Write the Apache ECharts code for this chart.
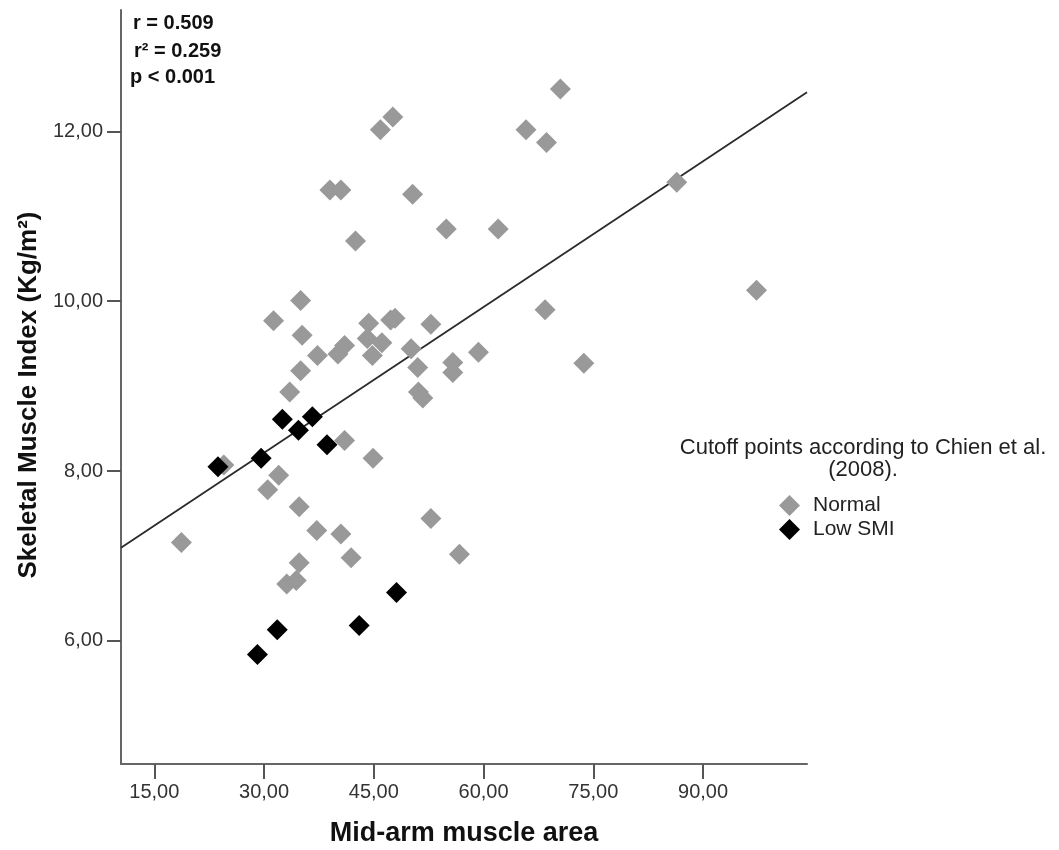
<!DOCTYPE html>
<html>
<head>
<meta charset="utf-8">
<script src="https://cdn.jsdelivr.net/npm/echarts@6/dist/echarts.min.js"></script>
<style>html,body{margin:0;padding:0;background:#fff;overflow:hidden}#c{width:1059px;height:850px}</style>
</head>
<body>
<div id="c"></div>
<script>
// Mid-arm muscle area (x) and Skeletal Muscle Index (y)
const normalX = [18.7,24.5,31.3,32.0,30.5,33.5,33.1,34.4,34.8,34.8,35.0,35.2,35.0,37.2,37.3,39.0,40.1,40.5,40.5,41.0,41.0,41.9,42.5,44.3,44.1,44.8,46.1,44.9,45.9,47.6,47.3,47.9,50.1,50.3,51.0,51.1,51.7,52.8,52.8,54.9,55.8,55.8,56.7,59.3,62.0,65.8,68.6,68.4,70.5,73.7,86.4,97.3];
const normalY = [7.16,8.07,9.77,7.95,7.78,8.93,6.67,6.71,6.92,7.58,9.18,9.60,10.01,7.30,9.36,11.31,9.38,11.31,7.26,8.36,9.48,6.98,10.71,9.74,9.56,9.36,9.51,8.15,12.02,12.17,9.78,9.80,9.44,11.26,9.22,8.93,8.86,9.73,7.44,10.85,9.28,9.16,7.02,9.40,10.85,12.02,11.87,9.90,12.50,9.27,11.40,10.13];
const lowX = [23.7,29.6,32.5,34.7,36.6,38.6,29.1,31.8,43.0,48.1];
const lowY = [8.05,8.15,8.61,8.48,8.64,8.31,5.84,6.13,6.18,6.57];
const xTicks = [15,30,45,60,75,90];
const yTicks = [6,8,10,12];
const xRange = [10.45, 104.2];
const yRange = [4.55, 13.43];
const fitIntercept = 6.50;
const fitSlope = 0.0572;
const statsText = ['r = 0.509', 'r\u00b2 = 0.259', 'p < 0.001'];
const legendTitle = ['Cutoff points according to Chien et al.', '(2008).'];
const seriesNames = ['Normal', 'Low SMI'];
const xTitle = 'Mid-arm muscle area';
const yTitle = 'Skeletal Muscle Index (Kg/m\u00b2)';

const FONT = '"Liberation Sans", Arial, sans-serif';
const fmt = v => v.toFixed(2).replace('.', ',');
const zip = (a, b) => a.map((v, i) => [v, b[i]]);
const fitLine = xRange.map(x => [x, fitIntercept + fitSlope * x]);

const chart = echarts.init(document.getElementById('c'), null, {renderer: 'canvas'});
chart.setOption({
  animation: false,
  backgroundColor: '#fff',
  grid: {left: 121, top: 10, width: 686, height: 754, containLabel: false, outerBoundsMode: 'none'},
  xAxis: {
    type: 'value', min: xRange[0], max: xRange[1],
    name: xTitle, nameLocation: 'middle', nameGap: 56,
    nameTextStyle: {fontFamily: FONT, fontSize: 27, fontWeight: 'bold', color: '#111'},
    splitLine: {show: false},
    axisLine: {lineStyle: {color: '#666', width: 2}},
    axisTick: {show: true, length: 15, customValues: xTicks, lineStyle: {color: '#555', width: 2}},
    axisLabel: {customValues: xTicks, formatter: fmt, fontFamily: FONT, fontSize: 20, color: '#333', margin: 18}
  },
  yAxis: {
    type: 'value', min: yRange[0], max: yRange[1],
    splitLine: {show: false},
    axisLine: {show: true, lineStyle: {color: '#666', width: 2}},
    axisTick: {show: true, length: 14, customValues: yTicks, lineStyle: {color: '#555', width: 2}},
    axisLabel: {customValues: yTicks, formatter: fmt, fontFamily: FONT, fontSize: 20, color: '#333', margin: 18}
  },
  legend: {
    orient: 'vertical', left: 774, top: 490, itemWidth: 21, itemHeight: 21, itemGap: 3,
    data: seriesNames,
    textStyle: {fontFamily: FONT, fontSize: 21, color: '#222', padding: [0, 0, 0, 8]}
  },
  graphic: [
    {type: 'text', x: 133, y: 23, style: {text: statsText[0], font: 'bold 20px ' + FONT, fill: '#111', textVerticalAlign: 'middle'}},
    {type: 'text', x: 134, y: 51, style: {text: statsText[1], font: 'bold 20px ' + FONT, fill: '#111', textVerticalAlign: 'middle'}},
    {type: 'text', x: 130, y: 77, style: {text: statsText[2], font: 'bold 20px ' + FONT, fill: '#111', textVerticalAlign: 'middle'}},
    {type: 'text', x: 863, y: 448, style: {text: legendTitle[0], font: '22px ' + FONT, fill: '#222', textAlign: 'center', textVerticalAlign: 'middle'}},
    {type: 'text', x: 863, y: 470, style: {text: legendTitle[1], font: '22px ' + FONT, fill: '#222', textAlign: 'center', textVerticalAlign: 'middle'}},
    {type: 'text', x: 29, y: 395, rotation: Math.PI / 2, style: {text: yTitle, font: 'bold 26px ' + FONT, fill: '#111', textAlign: 'center', textVerticalAlign: 'middle'}}
  ],
  series: [
    {type: 'line', data: fitLine, symbol: 'none', silent: true, z: 1,
     lineStyle: {color: '#2a2a2a', width: 1.8}},
    {name: seriesNames[0], type: 'scatter', data: zip(normalX, normalY), symbol: 'diamond', symbolSize: 21, z: 2,
     itemStyle: {color: '#999999', opacity: 1}},
    {name: seriesNames[1], type: 'scatter', data: zip(lowX, lowY), symbol: 'diamond', symbolSize: 21, z: 3,
     itemStyle: {color: '#000000', opacity: 1}}
  ]
});
</script>
</body>
</html>
